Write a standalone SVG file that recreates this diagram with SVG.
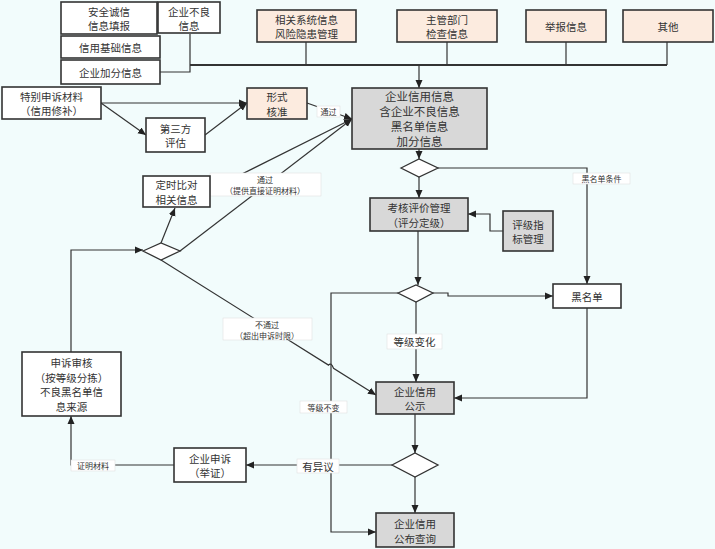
<svg xmlns="http://www.w3.org/2000/svg" width="715" height="549" viewBox="0 0 715 549">
<defs>
<marker id="ah" markerUnits="userSpaceOnUse" markerWidth="8" markerHeight="8" refX="8" refY="4" orient="auto"><path d="M0,0.5 L8,4 L0,7.5 z" fill="#222"/></marker>
<style>
text{font-family:"Noto Sans CJK SC","Noto Sans CJK TC",sans-serif;fill:#333;text-anchor:middle;dominant-baseline:central}
.b{fill:#fff;stroke:#333;stroke-width:1.6}
.p{fill:#fcebdf;stroke:#333;stroke-width:1.6}
.g{fill:#d8d8d8;stroke:#333;stroke-width:1.6}
.d{fill:#fff;stroke:#333;stroke-width:1.3}
.t{font-size:10.5px}
.s{font-size:8px}
.m{font-size:10.5px}
.lb{fill:#fff;stroke:#e0e0e0;stroke-width:0.6}
#conn path{fill:none;stroke:#333;stroke-width:1.2}
#conn path.a{marker-end:url(#ah)}
</style>
</defs>
<rect width="715" height="549" fill="#f2fcfc"/>
<g id="conn">
<path d="M190,34 V72 H160"/>
<path d="M190,65 H667" style="stroke-width:1.8"/>
<path d="M306,42 V65"/><path d="M447,42 V65"/><path d="M566,42 V65"/><path d="M667,42 V65"/>
<path class="a" d="M419,65 V88"/>
<path class="a" d="M101,103 H247"/>
<path class="a" d="M101,103 L146,135"/>
<path class="a" d="M205,135 L247,103"/>
<path class="a" d="M307,103 L352,119"/>
<path class="a" d="M210,190 L352,119"/>
<path class="a" d="M180,251 L352,119"/>
<path class="a" d="M161,243 L175,208"/>
<path class="a" d="M71,352 V250 H143"/>
<path class="a" d="M161,260 L328.5,365.1 Q331,362 333.5,368.3 L376,395"/>
<path class="a" d="M419,149 V159"/>
<path class="a" d="M438,168 H587 V284"/>
<path class="a" d="M419,177 V198"/>
<path class="a" d="M503,231 H490 V214 H468"/>
<path class="a" d="M418,231 V285"/>
<path class="a" d="M433,293 H448 V296 H553"/>
<path class="a" d="M398,293 H331 V532 H376"/>
<path class="a" d="M416,302 V382"/>
<path class="a" d="M587,308 V398 H454"/>
<path class="a" d="M415,414 V453"/>
<path class="a" d="M415,477 V513"/>
<path class="a" d="M392,465 H246"/>
<path class="a" d="M174,465 H71 V416"/>
</g>
<g id="labels">
<rect class="lb" x="317" y="106" width="23" height="11"/><text class="s" x="328.5" y="111.5">通过</text>
<rect class="lb" x="210" y="173" width="111" height="23"/><text class="s"><tspan x="265" y="179">通过</tspan><tspan x="265" y="190">（提供直接证明材料）</tspan></text>
<rect class="lb" x="223" y="318" width="89" height="22"/><text class="s"><tspan x="267" y="323.5">不通过</tspan><tspan x="267" y="334.5">（超出申诉时限）</tspan></text>
<rect class="lb" x="573" y="173" width="57" height="11"/><text class="s" x="601.5" y="178.5">黑名单条件</text>
<rect class="lb" x="387" y="334" width="55" height="15"/><text class="m" x="414.5" y="341.5">等级变化</text>
<rect class="lb" x="300" y="401" width="47" height="12"/><text class="s" x="323.5" y="407">等级不变</text>
<rect class="lb" x="297" y="459" width="42" height="14"/><text class="m" x="318" y="466">有异议</text>
<rect class="lb" x="71" y="460" width="44" height="11"/><text class="s" x="93" y="465.5">证明材料</text>
</g>
<g id="n_anquan"><rect class="b" x="61" y="2" width="96" height="32"/><text class="t"><tspan x="109" y="10.5">安全诚信</tspan><tspan x="109" y="25">信息填报</tspan></text></g>
<g id="n_buliang"><rect class="b" x="158" y="2" width="62" height="31"/><text class="t"><tspan x="189" y="10.5">企业不良</tspan><tspan x="189" y="25">信息</tspan></text></g>
<g id="n_jichu"><rect class="b" x="61" y="36" width="99" height="22"/><text class="t" x="110.5" y="47">信用基础信息</text></g>
<g id="n_jiafen"><rect class="b" x="61" y="60" width="99" height="24"/><text class="t" x="110.5" y="72">企业加分信息</text></g>
<g id="n_xiangguan"><rect class="p" x="257" y="10" width="99" height="32"/><text class="t"><tspan x="306.5" y="18.5">相关系统信息</tspan><tspan x="306.5" y="33">风险隐患管理</tspan></text></g>
<g id="n_zhuguan"><rect class="p" x="397" y="10" width="100" height="32"/><text class="t"><tspan x="447" y="18.5">主管部门</tspan><tspan x="447" y="33">检查信息</tspan></text></g>
<g id="n_jubao"><rect class="p" x="526" y="10" width="80" height="32"/><text class="t" x="566" y="26">举报信息</text></g>
<g id="n_qita"><rect class="p" x="623" y="10" width="90" height="32"/><text class="t" x="668" y="26">其他</text></g>
<g id="n_tebie"><rect class="b" x="2" y="87" width="99" height="32"/><text class="t"><tspan x="51.5" y="95.5">特别申诉材料</tspan><tspan x="51.5" y="110">（信用修补）</tspan></text></g>
<g id="n_disanfang"><rect class="b" x="146" y="118" width="59" height="34"/><text class="t"><tspan x="175.5" y="127.5">第三方</tspan><tspan x="175.5" y="142">评估</tspan></text></g>
<g id="n_xingshi"><rect class="p" x="247" y="88" width="60" height="31"/><text class="t"><tspan x="277" y="96">形式</tspan><tspan x="277" y="110.5">核准</tspan></text></g>
<g id="n_main"><rect class="g" x="352" y="88" width="135" height="61"/><text style="font-size:11.5px"><tspan x="419.5" y="96">企业信用信息</tspan><tspan x="419.5" y="111">含企业不良信息</tspan><tspan x="419.5" y="126">黑名单信息</tspan><tspan x="419.5" y="141">加分信息</tspan></text></g>
<g id="n_dingshi"><rect class="b" x="143" y="176" width="67" height="31"/><text class="t"><tspan x="176.5" y="184">定时比对</tspan><tspan x="176.5" y="198.5">相关信息</tspan></text></g>
<g id="n_dA"><path class="d" d="M143,251 L161,243 L180,251 L161,260 z"/></g>
<g id="n_d1"><path class="d" d="M401,168 L419,159 L438,168 L419,177 z"/></g>
<g id="n_kaohe"><rect class="g" x="370" y="198" width="98" height="33"/><text class="t"><tspan x="419" y="207">考核评价管理</tspan><tspan x="419" y="221.5">（评分定级）</tspan></text></g>
<g id="n_pingji"><rect class="g" x="503" y="211" width="50" height="40"/><text class="t"><tspan x="528" y="223.5">评级指</tspan><tspan x="528" y="238">标管理</tspan></text></g>
<g id="n_d2"><path class="d" d="M398,293 L416,285 L433,293 L416,302 z"/></g>
<g id="n_heimingdan"><rect class="b" x="553" y="284" width="68" height="24"/><text class="t" x="587" y="296">黑名单</text></g>
<g id="n_shensu"><rect class="b" x="22" y="352" width="99" height="64"/><text class="t"><tspan x="71.5" y="362">申诉审核</tspan><tspan x="71.5" y="376.5">（按等级分拣）</tspan><tspan x="71.5" y="391">不良黑名单信</tspan><tspan x="71.5" y="405.5">息来源</tspan></text></g>
<g id="n_gongshi"><rect class="g" x="376" y="382" width="78" height="32"/><text class="t"><tspan x="415" y="390.5">企业信用</tspan><tspan x="415" y="405">公示</tspan></text></g>
<g id="n_d3"><path class="d" d="M392,465 L415,453 L438,465 L415,477 z"/></g>
<g id="n_qiyeshensu"><rect class="b" x="174" y="448" width="72" height="34"/><text class="t"><tspan x="210" y="457.5">企业申诉</tspan><tspan x="210" y="472">（举证）</tspan></text></g>
<g id="n_gongbu"><rect class="g" x="376" y="513" width="78" height="34"/><text class="t"><tspan x="415" y="523">企业信用</tspan><tspan x="415" y="537.5">公布查询</tspan></text></g>
</svg>
